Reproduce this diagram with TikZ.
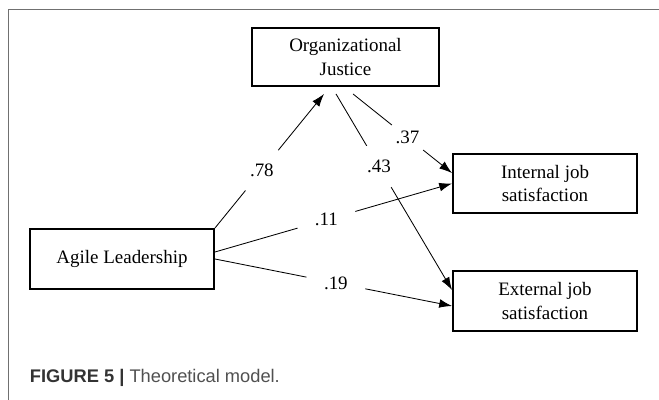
\documentclass[tikz,border=0pt]{standalone}
\usepackage{fontspec}
\setmainfont{Liberation Serif}
\newfontfamily\capfont{Liberation Sans}
\usetikzlibrary{arrows.meta}
\definecolor{framegray}{HTML}{707070}
\definecolor{capdark}{HTML}{333333}
\definecolor{capgray}{HTML}{505050}

\begin{document}
\begin{tikzpicture}[
    box/.style={draw,line width=1.4pt,minimum width=4.6cm,minimum height=1.5cm,align=center,font=\fontsize{13.5}{16.5}\selectfont},
    coef/.style={circle,fill=white,inner sep=0pt,minimum size=1.3cm,font=\fontsize{13.5}{16}\selectfont},
    path/.style={line width=0.6pt,->},
    >={Latex[length=3.2mm,width=2.2mm]}
  ]
      \useasboundingbox (0,0) rectangle (16.475,10);
      \draw[framegray,line width=0.7pt](0.2,0)--(0.2,9.75)--(16.475,9.75);

      % constructs
      \node[box,minimum width=4.675cm,minimum height=1.45cm] (oj) at (8.6375,8.575) {Organizational\\Justice};
      \node[box] (al) at (3.05,3.525) {Agile Leadership};
      \node[box,minimum height=1.475cm] (ijs) at (13.625,5.4125) {Internal job\\satisfaction};
      \node[box] (ejs) at (13.625,2.475) {External job\\satisfaction};

      % paths
      \draw[path] (al.north east) -- ([xshift=1.825cm,yshift=-0.175cm]oj.south west) node[coef,pos=.43]{.78};
      \draw[path] ([xshift=2.55cm,yshift=-0.175cm]oj.south west) -- ([yshift=0.26cm]ijs.west) node[coef,pos=.55,minimum size=1cm]{.37};
      \draw[path] ([xshift=2.125cm,yshift=-0.175cm]oj.south west) -- ([yshift=0.275cm]ejs.west) node[coef,pos=.37,minimum size=1.2cm]{.43};
      \draw[path] ([yshift=0.175cm]al.east) -- (ijs.west) node[coef,pos=.47,minimum size=1.5cm]{.11};
      \draw[path] (al.east) -- ([yshift=-0.125cm]ejs.west) node[coef,pos=.51,minimum size=1.5cm]{.19};

      \node[anchor=base west,font=\capfont\fontsize{13}{15}\selectfont] (caption) at (0.625,0.425)
        {\textcolor{capdark}{\bfseries FIGURE 5 |} \textcolor{capgray}{Theoretical model.}};
\end{tikzpicture}
\end{document}
